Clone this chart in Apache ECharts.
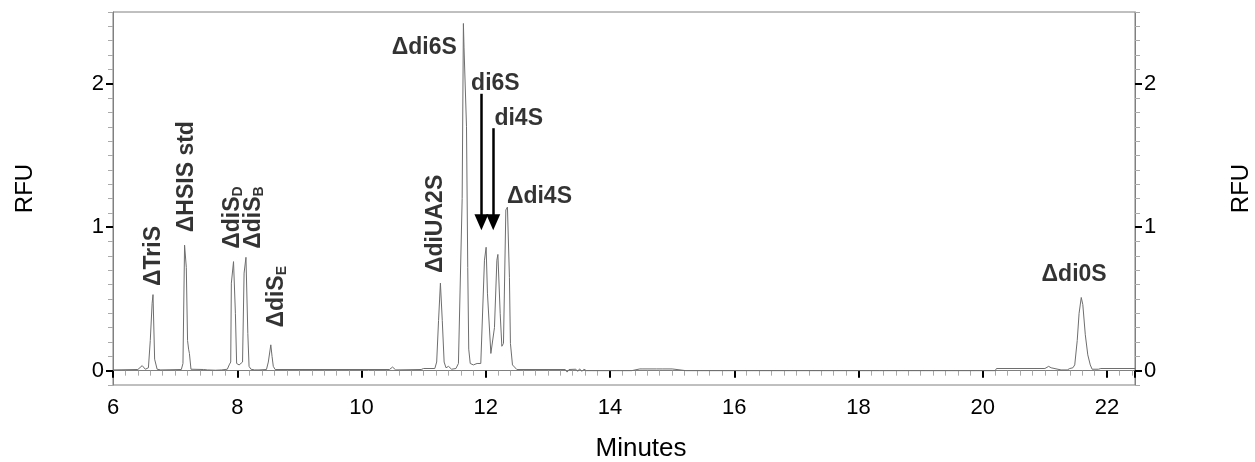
<!DOCTYPE html>
<html>
<head>
<meta charset="utf-8">
<script src="https://cdn.jsdelivr.net/npm/echarts@6/dist/echarts.min.js"></script>
<style>
  html, body { margin: 0; padding: 0; background: #fff; }
  #chart { width: 1255px; height: 462px; }
</style>
</head>
<body>
<div id="chart"></div>
<script>
// trace (minutes, RFU)
const minutes = [
  6.00, 6.40, 6.47, 6.50, 6.52, 6.57, 6.60, 6.63, 6.644, 6.67, 6.71, 6.74, 6.77,
  7.10, 7.126, 7.152, 7.18, 7.20, 7.217, 7.23, 7.255, 7.46, 7.49, 7.52, 7.65, 7.75,
  7.84, 7.87, 7.895, 7.905, 7.94, 7.97, 7.99, 8.03, 8.06, 8.085, 8.11, 8.14, 8.17, 8.19,
  8.22, 8.25, 8.28, 8.31, 8.35, 8.47, 8.50, 8.54, 8.56, 8.58, 8.61,
  10.45, 10.50, 10.55, 10.96, 11.00, 11.18, 11.21, 11.24, 11.27, 11.30, 11.33, 11.36,
  11.40, 11.45, 11.52, 11.56, 11.59, 11.62, 11.64, 11.65, 11.69, 11.71, 11.726,
  11.75, 11.80, 11.86, 11.92, 11.947, 11.979, 12.006, 12.027, 12.082, 12.14, 12.179,
  12.195, 12.232, 12.259, 12.285, 12.323, 12.349, 12.381, 12.397, 12.43, 12.50,
  13.28, 13.31, 13.34, 13.45, 13.48, 13.51, 13.55, 13.58, 13.62, 14.10, 14.13, 14.17,
  14.35, 14.37, 14.48, 14.50, 14.53, 14.75, 14.78, 14.85, 15.00, 15.02, 15.22, 15.24,
  15.27, 20.20, 20.22, 21.00, 21.03, 21.06, 21.10, 21.13, 21.26, 21.36, 21.40, 21.45,
  21.48, 21.52, 21.55, 21.585, 21.61, 21.65, 21.69, 21.73, 21.76, 21.86, 21.90, 22.45
];
const rfu = [
  0.005, 0.008, 0.035, 0.035, 0.01, 0.02, 0.21, 0.47, 0.53, 0.08, 0.01, 0.015, 0.005,
  0.008, 0.05, 0.875, 0.72, 0.21, 0.15, 0.12, 0.01, 0.008, 0.02, 0.005, 0.003, 0.005,
  0.01, 0.04, 0.06, 0.61, 0.76, 0.4, 0.05, 0.04, 0.05, 0.06, 0.68, 0.79, 0.26, 0.03,
  0.01, 0.015, 0.005, 0.012, 0.005, 0.008, 0.06, 0.18, 0.1, 0.03, 0.008,
  0.008, 0.025, 0.005, 0.008, 0.015, 0.015, 0.06, 0.35, 0.61, 0.35, 0.06, 0.02,
  0.03, 0.01, 0.015, 0.05, 0.06, 1.2, 2.42, 2.25, 1.7, 0.72, 0.15,
  0.05, 0.04, 0.05, 0.05, 0.06, 0.77, 0.86, 0.54, 0.12, 0.3, 0.77,
  0.81, 0.4, 0.17, 0.19, 1.12, 1.14, 0.65, 0.19, 0.04, 0.008,
  0.008, -0.01, 0.008, 0.01, -0.005, 0.012, -0.005, 0.01, 0, 0, 0.012, 0,
  0, 0.012, 0.012, 0, 0.012, 0.012, 0, 0.012, 0.012, 0, 0, 0.012,
  0, 0, 0.015, 0.015, 0.005, 0.03, 0.02, 0.01, 0.005, 0.005, 0.015, 0.02,
  0.04, 0.21, 0.4, 0.51, 0.46, 0.25, 0.11, 0.04, 0.01, 0.01, 0.015, 0.015
];

// peak annotations: text, anchor (minutes, RFU), rotation
const peakNames = ['ΔTriS', 'ΔHSIS std', 'ΔdiS{sub|D}', 'ΔdiS{sub|B}', 'ΔdiS{sub|E}', 'ΔdiUA2S',
                   'Δdi6S', 'di6S', 'di4S', 'Δdi4S', 'Δdi0S'];
const peakX = [6.65, 7.18, 7.93, 8.26, 8.64, 11.19, 11.535, 12.155, 12.53, 12.34, 21.47];
const peakY = [0.59, 0.965, 0.85, 0.85, 0.30, 0.68, 2.25, 2.0, 1.76, 1.21, 0.667];
const peakRotate = [90, 90, 90, 90, 90, 90, 0, 0, 0, 0, 0];
const peakAlign = ['left', 'left', 'left', 'left', 'left', 'left', 'right', 'center', 'center', 'left', 'center'];

// arrows for di6S / di4S (end value is the centre of the arrow head)
const arrowX = [11.93, 12.12];
const arrowFrom = [1.93, 1.69];
const arrowTo = [1.035, 1.035];

const trace = minutes.map((m, i) => [m, rfu[i]]);
const font = '"Liberation Sans", Arial, sans-serif';
const axisGrey = '#808080';

const chart = echarts.init(document.getElementById('chart'));

function yAxes(side) {
  return [{
    type: 'value', position: side, min: -0.1, max: 2.5, interval: 0.1,
    axisLine: { show: true, lineStyle: { color: axisGrey, width: 1 } },
    axisTick: { show: true, length: 5, lineStyle: { color: '#aaa', width: 1 } },
    axisLabel: { show: false },
    splitLine: { show: false }
  }, {
    type: 'value', position: side, min: -0.1, max: 2.5,
    name: 'RFU', nameLocation: 'middle', nameRotate: 90,
    nameGap: side === 'left' ? 76 : 94,
    nameTextStyle: { fontSize: 24, color: '#000', fontFamily: font, padding: [0, 0, 0, 20] },
    axisLine: { show: false },
    axisTick: { show: true, customValues: [0, 1, 2], length: 7, lineStyle: { color: '#000', width: 2 } },
    axisLabel: { show: true, customValues: [0, 1, 2], fontSize: 22, color: '#000', fontFamily: font, margin: 9 },
    splitLine: { show: false }
  }];
}

chart.setOption({
  animation: false,
  backgroundColor: '#fff',
  grid: {
    left: 113, right: 120, top: 12, bottom: 77,
    outerBoundsMode: 'none', containLabel: false,
    show: true, borderColor: axisGrey, borderWidth: 1
  },
  xAxis: {
    type: 'value', min: 6, max: 22.45, interval: 2,
    name: 'Minutes', nameLocation: 'middle', nameGap: 51,
    nameTextStyle: { fontSize: 26, color: '#000', fontFamily: font, padding: [0, 0, 0, 34] },
    axisLine: { show: true, lineStyle: { color: axisGrey, width: 1 } },
    axisTick: { show: true, length: 7, lineStyle: { color: '#000', width: 2 } },
    minorTick: { show: true, splitNumber: 10, length: 5, lineStyle: { color: '#aaa', width: 1 } },
    axisLabel: { fontSize: 22, color: '#000', fontFamily: font, margin: 12 },
    splitLine: { show: false },
    minorSplitLine: { show: false }
  },
  yAxis: yAxes('left').concat(yAxes('right')),
  series: [{
    type: 'line',
    data: trace,
    yAxisIndex: 0,
    showSymbol: false,
    symbol: 'none',
    lineStyle: { color: '#6e6e6e', width: 1 },
    markLine: {
      silent: true,
      symbol: ['none', 'triangle'],
      symbolSize: [14, 16],
      label: { show: false },
      lineStyle: { color: '#000', width: 2.5, type: 'solid' },
      data: arrowX.map((x, i) => [{ coord: [x, arrowFrom[i]] }, { coord: [x, arrowTo[i]] }])
    }
  }, {
    type: 'scatter',
    yAxisIndex: 0,
    symbolSize: 0,
    silent: true,
    data: peakNames.map((n, i) => ({
      value: [peakX[i], peakY[i]],
      label: {
        show: true, position: 'inside', formatter: n,
        rotate: peakRotate[i], align: peakAlign[i], verticalAlign: 'middle',
        fontSize: 23, fontWeight: 'bold', color: '#000', fontFamily: font,
        rich: {
          sub: { fontSize: 14, fontWeight: 'bold', color: '#000', fontFamily: font, verticalAlign: 'bottom', padding: [11, 0, 0, 0] }
        }
      }
    }))
  }]
});
</script>
</body>
</html>
